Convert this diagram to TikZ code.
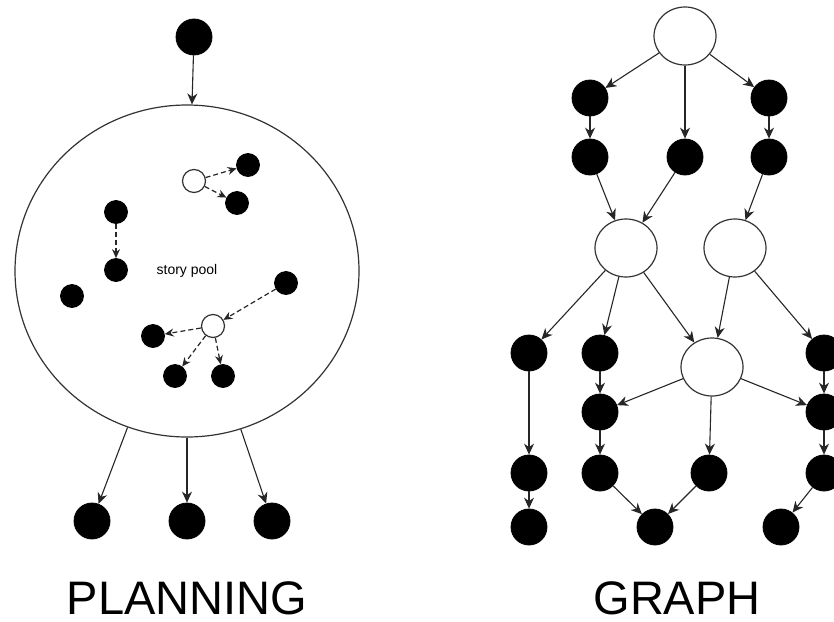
\documentclass[tikz,border=0pt]{standalone}
\usepackage{fontspec}
\setmainfont{Liberation Sans}
\usetikzlibrary{arrows.meta,shapes.geometric}
\begin{document}
\begin{tikzpicture}[x=1pt,y=-1pt,
  blk/.style={circle,fill=black,draw=black,line width=0.8pt,inner sep=0pt,minimum size=36pt},
  sblk/.style={circle,fill=black,draw=black,line width=0.8pt,inner sep=0pt,minimum size=23pt},
  opn/.style={ellipse,fill=white,draw=black!80,line width=1.2pt,inner sep=0pt,minimum width=62pt,minimum height=58pt},
  sopn/.style={circle,fill=white,draw=black!80,line width=1.2pt,inner sep=0pt,minimum size=23pt},
  arr/.style={draw=black!85,line width=1.1pt,-{Stealth[length=11pt,width=10pt,inset=3.5pt]}},
  darr/.style={draw=black!85,line width=1.2pt,dash pattern=on 5pt off 3pt,-{Stealth[length=9pt,width=8pt,inset=3pt]}},
  title/.style={font=\fontsize{47}{47}\selectfont,anchor=base,inner sep=0pt}
]
\useasboundingbox (0,0) rectangle (834,621);
% ---------- PLANNING ----------
\node[ellipse,draw=black!80,line width=1.2pt,minimum width=344pt,minimum height=332pt,inner sep=0pt] (pool) at (187,271) {};
\node[blk] (pt) at (194,37) {};
\draw[arr] (pt) -- (pool);
\node[font=\fontsize{14}{14}\selectfont,inner sep=0pt] (lbl) at (187,271) {story pool};

\node[sopn] (o1) at (194,181) {};
\node[sblk] (a1) at (248,165) {};
\node[sblk] (a2) at (237,203) {};
\node[sblk] (b1) at (116,212) {};
\node[sblk] (b2) at (116,270) {};
\node[sblk] (c1) at (72,296) {};
\node[sblk] (d0) at (286,283) {};
\node[sopn] (o2) at (213,326) {};
\node[sblk] (d1) at (153,336) {};
\node[sblk] (d2) at (175,376) {};
\node[sblk] (d3) at (223,376) {};
\draw[darr] (o1) -- (a1);
\draw[darr] (o1) -- (a2);
\draw[darr] (b1) -- (b2);
\draw[darr] (d0) -- (o2);
\draw[darr] (o2) -- (d1);
\draw[darr] (o2) -- (d2);
\draw[darr] (o2) -- (d3);

\node[blk] (e1) at (92,521) {};
\node[blk] (e2) at (187,521) {};
\node[blk] (e3) at (272,521) {};
\draw[arr] (pool) -- (e1);
\draw[arr] (pool) -- (e2);
\draw[arr] (pool) -- (e3);

\node[title] (tp) at (187,614) {PLANNING};

% ---------- GRAPH ----------
\node[opn] (g0) at (685,36) {};
\node[blk] (g1) at (590,98) {};
\node[blk] (g2) at (769,98) {};
\node[blk] (g3) at (590,157) {};
\node[blk] (g4) at (685,157) {};
\node[blk] (g5) at (769,157) {};
\node[opn] (gA) at (626,248) {};
\node[opn] (gB) at (735,248) {};
\node[blk] (h1) at (529,353) {};
\node[blk] (h2) at (600,353) {};
\node[opn] (gC) at (712,367) {};
\node[blk] (h4) at (824,353) {};
\node[blk] (i2) at (600,412) {};
\node[blk] (i4) at (824,412) {};
\node[blk] (j1) at (529,473) {};
\node[blk] (j2) at (600,473) {};
\node[blk] (j3) at (709,473) {};
\node[blk] (j4) at (824,473) {};
\node[blk] (k1) at (529,527) {};
\node[blk] (k2) at (655,527) {};
\node[blk] (k3) at (781,527) {};

\draw[arr] (g0) -- (g1);
\draw[arr] (g0) -- (g4);
\draw[arr] (g0) -- (g2);
\draw[arr] (g1) -- (g3);
\draw[arr] (g2) -- (g5);
\draw[arr] (g3) -- (gA);
\draw[arr] (g4) -- (gA);
\draw[arr] (g5) -- (gB);
\draw[arr] (gA) -- (h1);
\draw[arr] (gA) -- (h2);
\draw[arr] (gA) -- (gC);
\draw[arr] (gB) -- (gC);
\draw[arr] (gB) -- (h4);
\draw[arr] (h1) -- (j1);
\draw[arr] (j1) -- (k1);
\draw[arr] (h2) -- (i2);
\draw[arr] (i2) -- (j2);
\draw[arr] (j2) -- (k2);
\draw[arr] (gC) -- (i2);
\draw[arr] (gC) -- (j3);
\draw[arr] (gC) -- (i4);
\draw[arr] (j3) -- (k2);
\draw[arr] (h4) -- (i4);
\draw[arr] (i4) -- (j4);
\draw[arr] (j4) -- (k3);

\node[title] (tg) at (677,614) {GRAPH};
\end{tikzpicture}
\end{document}
